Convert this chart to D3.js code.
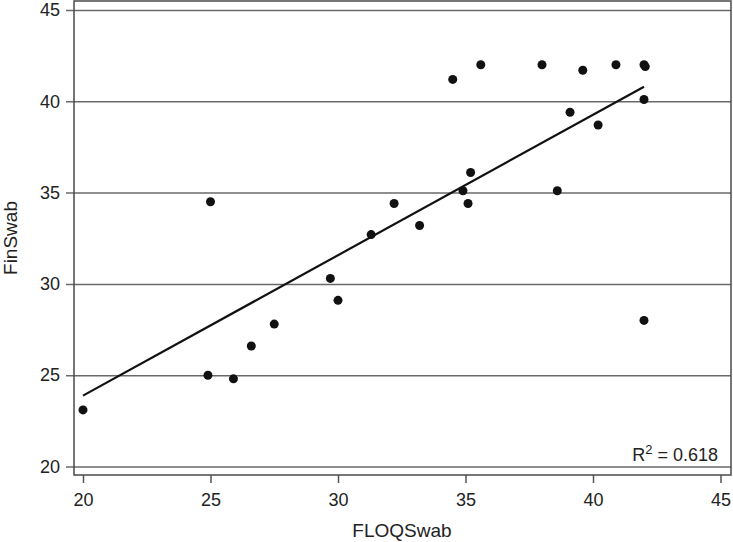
<!DOCTYPE html>
<html>
<head>
<meta charset="utf-8">
<script src="https://cdn.jsdelivr.net/npm/d3@7"></script>
<style>
  body { margin: 0; background: #fff; }
  svg text { font-family: "Liberation Sans", Arial, sans-serif; fill: #222; }
</style>
</head>
<body>
<script>
// ---------------------------------------------------------------
// data
var floq = [20.0, 24.9, 25.9, 26.6, 27.5, 25.0, 29.7, 30.0, 31.3, 32.2, 33.2,
            34.5, 34.9, 35.1, 35.2, 35.6, 38.0, 38.6, 39.1, 39.6, 40.2, 40.9,
            42.0, 42.05, 42.0, 42.0];
var fin  = [23.1, 25.0, 24.8, 26.6, 27.8, 34.5, 30.3, 29.1, 32.7, 34.4, 33.2,
            41.2, 35.1, 34.4, 36.1, 42.0, 42.0, 35.1, 39.4, 41.7, 38.7, 42.0,
            42.0, 41.9, 40.1, 28.0];
var fitX = [20, 42];
var fitY = [23.88, 40.8];
var xTicks = [20, 25, 30, 35, 40, 45];
var yTicks = [20, 25, 30, 35, 40, 45];
var r2Label = "0.618";

// ---------------------------------------------------------------
var W = 733, H = 542;
var frame = { left: 74, top: 1, right: 731, bottom: 475 };

var x = d3.scaleLinear().domain([20, 45]).range([83, 720.5]);
var y = d3.scaleLinear().domain([20, 45]).range([466.5, 10]);

var svg = d3.select("body").append("svg")
    .attr("width", W)
    .attr("height", H);

// y gridlines + labels (ticks run from left tick mark across to the frame)
var yAxis = svg.append("g")
    .attr("transform", "translate(" + frame.right + ",0)")
    .call(d3.axisLeft(y).tickValues(yTicks)
          .tickSize(frame.right - 66).tickPadding(6).tickSizeOuter(0));
yAxis.select(".domain").remove();
yAxis.selectAll("line").attr("stroke", "#6a6a6a").attr("stroke-width", 1.5);
yAxis.selectAll("text").style("font-size", "18px").attr("fill", "#222");

// x ticks
var xAxis = svg.append("g")
    .attr("transform", "translate(0," + frame.bottom + ")")
    .call(d3.axisBottom(x).tickValues(xTicks)
          .tickSize(8).tickPadding(10).tickSizeOuter(0));
xAxis.select(".domain").remove();
xAxis.selectAll("line").attr("stroke", "#555").attr("stroke-width", 1.5);
xAxis.selectAll("text").style("font-size", "18px").attr("fill", "#222");

// frame
svg.append("rect")
    .attr("x", frame.left)
    .attr("y", frame.top)
    .attr("width", frame.right - frame.left)
    .attr("height", frame.bottom - frame.top)
    .attr("fill", "none")
    .attr("stroke", "#4a4a4a")
    .attr("stroke-width", 1.5);

// regression line
var fit = fitX.map(function(d, i) { return [d, fitY[i]]; });
svg.append("path")
    .datum(fit)
    .attr("d", d3.line().x(function(d) { return x(d[0]); }).y(function(d) { return y(d[1]); }))
    .attr("stroke", "#111")
    .attr("stroke-width", 2.2)
    .attr("fill", "none");

// points
svg.append("g")
    .selectAll("circle")
    .data(floq)
    .enter()
    .append("circle")
    .attr("cx", function(d) { return x(d); })
    .attr("cy", function(d, i) { return y(fin[i]); })
    .attr("r", 4.5)
    .attr("fill", "#111");

// R^2 annotation
var r2 = svg.append("text")
    .attr("x", 718)
    .attr("y", 461)
    .attr("text-anchor", "end")
    .style("font-size", "18px");
r2.append("tspan").text("R");
r2.append("tspan").attr("dy", -7).style("font-size", "13px").text("2");
r2.append("tspan").attr("dy", 7).text(" = " + r2Label);

// axis titles
svg.append("text")
    .attr("x", 402)
    .attr("y", 537)
    .attr("text-anchor", "middle")
    .style("font-size", "19px")
    .text("FLOQSwab");

svg.append("text")
    .attr("transform", "translate(17,238) rotate(-90)")
    .attr("text-anchor", "middle")
    .style("font-size", "19px")
    .text("FinSwab");
</script>
</body>
</html>
